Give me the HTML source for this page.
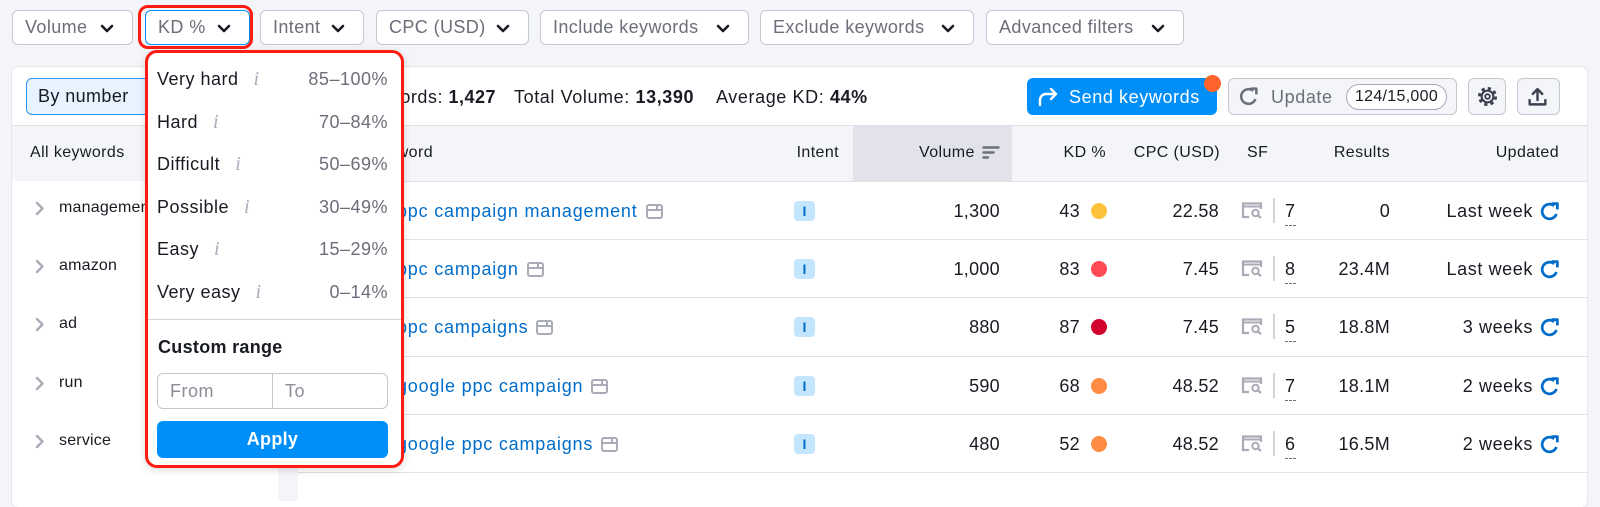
<!DOCTYPE html>
<html><head><meta charset="utf-8"><style>
*{box-sizing:border-box;margin:0;padding:0}
body{width:1600px;height:486px;overflow:hidden;background:#f4f5f9;position:relative;font-family:"Liberation Sans",Arial,sans-serif;color:#191b23}
.a{position:absolute;white-space:nowrap}
.fb{position:absolute;top:10px;height:35px;background:#fff;border:1px solid #c4c7cf;border-radius:6px;font-size:18px;line-height:33px;color:#6c6e79;padding-left:12px;letter-spacing:0.4px}
.fb svg{position:absolute;right:18px;top:13px}
.h{position:absolute;top:141px;height:24px;line-height:24px;font-size:16px;letter-spacing:0.4px;white-space:nowrap}
.sb{position:absolute;left:59px;height:24px;line-height:24px;font-size:16px;letter-spacing:0.2px}
.sbc{position:absolute;left:34px}
.t{position:absolute;height:24px;line-height:24px;font-size:18px;white-space:nowrap;letter-spacing:0.3px}
.kw{color:#006dca;letter-spacing:0.8px;left:397px}
.kw svg{vertical-align:-2px;margin-left:8px}
.ib{position:absolute;left:794px;width:21px;height:20px;background:#c4e5fe;border-radius:4px;color:#006dca;font-size:14px;font-weight:bold;text-align:center;line-height:20px}
.dot{position:absolute;left:1091px;width:16px;height:16px;border-radius:50%}
.sep{position:absolute;left:298px;width:1289px;height:1px;background:#e0e1e9}
.dd{position:absolute;left:157px;height:24px;line-height:24px;font-size:18px;letter-spacing:0.5px}
.dd i{font-family:"Liberation Serif",serif;color:#a9abb6;margin-left:15px;font-size:20px}
.rg{position:absolute;right:1212px;height:24px;line-height:24px;font-size:18px;color:#6c6e79;letter-spacing:0.5px}
</style></head><body>

<!-- filter buttons -->
<div class="fb" style="left:12px;width:121px">Volume<svg width="14" height="9" viewBox="0 0 14 9"><path d="M2 2l5 5 5-5" fill="none" stroke="#191b23" stroke-width="2.6" stroke-linecap="round" stroke-linejoin="round"/></svg></div>
<div class="fb" style="left:145px;width:105px;border-color:#008ff8">KD %<svg width="14" height="9" viewBox="0 0 14 9"><path d="M2 2l5 5 5-5" fill="none" stroke="#191b23" stroke-width="2.6" stroke-linecap="round" stroke-linejoin="round"/></svg></div>
<div class="a" style="left:138px;top:5px;width:115px;height:44px;border:3px solid #ff1b10;border-radius:10px"></div>
<div class="fb" style="left:260px;width:104px">Intent<svg width="14" height="9" viewBox="0 0 14 9"><path d="M2 2l5 5 5-5" fill="none" stroke="#191b23" stroke-width="2.6" stroke-linecap="round" stroke-linejoin="round"/></svg></div>
<div class="fb" style="left:376px;width:153px">CPC (USD)<svg width="14" height="9" viewBox="0 0 14 9"><path d="M2 2l5 5 5-5" fill="none" stroke="#191b23" stroke-width="2.6" stroke-linecap="round" stroke-linejoin="round"/></svg></div>
<div class="fb" style="left:540px;width:209px">Include keywords<svg width="14" height="9" viewBox="0 0 14 9"><path d="M2 2l5 5 5-5" fill="none" stroke="#191b23" stroke-width="2.6" stroke-linecap="round" stroke-linejoin="round"/></svg></div>
<div class="fb" style="left:760px;width:214px">Exclude keywords<svg width="14" height="9" viewBox="0 0 14 9"><path d="M2 2l5 5 5-5" fill="none" stroke="#191b23" stroke-width="2.6" stroke-linecap="round" stroke-linejoin="round"/></svg></div>
<div class="fb" style="left:986px;width:198px">Advanced filters<svg width="14" height="9" viewBox="0 0 14 9"><path d="M2 2l5 5 5-5" fill="none" stroke="#191b23" stroke-width="2.6" stroke-linecap="round" stroke-linejoin="round"/></svg></div>

<!-- card -->
<div class="a" style="left:12px;top:67px;width:1575px;height:440px;background:#fff;border-radius:6px;box-shadow:0 0 0 1px #e6e7ed"></div>

<!-- toolbar -->
<div class="a" style="left:26px;top:78px;width:160px;height:37px;background:#e7f3fe;border:1px solid #2b94f0;border-radius:6px;font-size:18px;line-height:35px;padding-left:11px;letter-spacing:0.4px">By number</div>
<div class="t" style="right:1104px;top:85px;letter-spacing:0.5px">Keywords: <b>1,427</b></div>
<div class="t" style="left:514px;top:85px;letter-spacing:0.6px">Total Volume: <b>13,390</b></div>
<div class="t" style="left:716px;top:85px;letter-spacing:0.6px">Average KD: <b>44%</b></div>

<div class="a" style="left:1027px;top:78px;width:190px;height:37px;background:#008ff8;border-radius:6px"></div>
<svg class="a" style="left:1037px;top:86px" width="22" height="22" viewBox="0 0 22 22"><path d="M3 19v-5a6 6 0 0 1 6-6h10" fill="none" stroke="#fff" stroke-width="2.4" stroke-linecap="round"/><path d="M14 3l5 5-5 5" fill="none" stroke="#fff" stroke-width="2.4" stroke-linecap="round" stroke-linejoin="round"/></svg>
<div class="t" style="left:1069px;top:85px;color:#fff;letter-spacing:0.6px">Send keywords</div>
<div class="a" style="left:1204px;top:75px;width:17px;height:17px;border-radius:50%;background:#ff642d"></div>

<div class="a" style="left:1228px;top:78px;width:229px;height:37px;background:#f4f5f9;border:1px solid #c4c7cf;border-radius:6px"></div>
<svg class="a" style="left:1238px;top:86px" width="21" height="21" viewBox="0 0 20 20"><path d="M16.6 12.4A7 7 0 1 1 14.5 4.6" fill="none" stroke="#6c6e79" stroke-width="2.4"/><path d="M12 2.5h5.5V8" fill="none" stroke="#6c6e79" stroke-width="2.4" stroke-linejoin="round"/></svg>
<div class="t" style="left:1271px;top:85px;color:#6c6e79;letter-spacing:0.6px">Update</div>
<div class="a" style="left:1346px;top:84px;width:101px;height:26px;border:1px solid #a9abb6;border-radius:13px;background:#fff;font-size:16px;line-height:24px;text-align:center;letter-spacing:0.3px">124/15,000</div>

<div class="a" style="left:1468px;top:78px;width:38px;height:37px;background:#f4f5f9;border:1px solid #c4c7cf;border-radius:6px"></div>
<svg class="a" style="left:1477px;top:86px" width="21" height="21" viewBox="0 0 20 20"><circle cx="10" cy="10" r="7.6" fill="none" stroke="#3e4150" stroke-width="3" stroke-dasharray="3 2.97"/><circle cx="10" cy="10" r="5.6" fill="none" stroke="#3e4150" stroke-width="2"/><circle cx="10" cy="10" r="2.2" fill="none" stroke="#3e4150" stroke-width="1.8"/></svg>
<div class="a" style="left:1517px;top:78px;width:43px;height:37px;background:#f4f5f9;border:1px solid #c4c7cf;border-radius:6px"></div>
<svg class="a" style="left:1527px;top:86px" width="21" height="21" viewBox="0 0 20 20"><path d="M2.5 12.5v5h15v-5" fill="none" stroke="#3e4150" stroke-width="2.3" stroke-linejoin="round"/><path d="M10 13.5V3M5.5 7.5L10 3l4.5 4.5" fill="none" stroke="#3e4150" stroke-width="2.3" stroke-linecap="round" stroke-linejoin="round"/></svg>

<!-- header band -->
<div class="a" style="left:12px;top:125px;width:1575px;height:1px;background:#e0e1e9"></div>
<div class="a" style="left:12px;top:126px;width:1575px;height:55px;background:#f4f5f9"></div>
<div class="a" style="left:853px;top:126px;width:159px;height:55px;background:#e2e3ea"></div>
<div class="a" style="left:278px;top:181px;width:20px;height:320px;background:#f4f5f9"></div>

<div class="h" style="left:30px">All keywords</div>
<div class="h" style="right:1167px">Keyword</div>
<div class="h" style="right:761px">Intent</div>
<div class="h" style="left:919px">Volume</div>
<svg class="a" style="left:982px;top:145px" width="18" height="15" viewBox="0 0 18 15"><path d="M1.5 2.5h15M1.5 7.5h10M1.5 12.5h4.5" stroke="#6c6e79" stroke-width="2.4" stroke-linecap="round"/></svg>
<div class="h" style="right:494px">KD %</div>
<div class="h" style="right:380px">CPC (USD)</div>
<div class="h" style="left:1247px">SF</div>
<div class="h" style="right:210px">Results</div>
<div class="h" style="right:41px">Updated</div>

<!-- sidebar -->
<svg class="sbc" style="top:201px" width="12" height="15" viewBox="0 0 12 15"><path d="M3 2l5.5 5.5L3 13" fill="none" stroke="#a9abb6" stroke-width="2.4" stroke-linecap="round" stroke-linejoin="round"/></svg>
<div class="sb" style="top:196px">management</div>
<svg class="sbc" style="top:259px" width="12" height="15" viewBox="0 0 12 15"><path d="M3 2l5.5 5.5L3 13" fill="none" stroke="#a9abb6" stroke-width="2.4" stroke-linecap="round" stroke-linejoin="round"/></svg>
<div class="sb" style="top:254px">amazon</div>
<svg class="sbc" style="top:317px" width="12" height="15" viewBox="0 0 12 15"><path d="M3 2l5.5 5.5L3 13" fill="none" stroke="#a9abb6" stroke-width="2.4" stroke-linecap="round" stroke-linejoin="round"/></svg>
<div class="sb" style="top:312px">ad</div>
<svg class="sbc" style="top:376px" width="12" height="15" viewBox="0 0 12 15"><path d="M3 2l5.5 5.5L3 13" fill="none" stroke="#a9abb6" stroke-width="2.4" stroke-linecap="round" stroke-linejoin="round"/></svg>
<div class="sb" style="top:371px">run</div>
<svg class="sbc" style="top:434px" width="12" height="15" viewBox="0 0 12 15"><path d="M3 2l5.5 5.5L3 13" fill="none" stroke="#a9abb6" stroke-width="2.4" stroke-linecap="round" stroke-linejoin="round"/></svg>
<div class="sb" style="top:429px">service</div>

<!-- table separators -->
<div class="sep" style="top:181px"></div>
<div class="sep" style="top:239px"></div>
<div class="sep" style="top:297px"></div>
<div class="sep" style="top:356px"></div>
<div class="sep" style="top:414px"></div>
<div class="sep" style="top:472px"></div>

<!-- row 0 -->
<div class="t kw" style="top:199px">ppc campaign management<svg width="17" height="15" viewBox="0 0 17 15"><rect x="1" y="1" width="15" height="13" rx="2" fill="none" stroke="#a9abb6" stroke-width="2"/><path d="M1 6h15M11 1v5" stroke="#a9abb6" stroke-width="2"/></svg></div>
<div class="ib" style="top:201px">I</div>
<div class="t" style="right:600px;top:199px">1,300</div>
<div class="t" style="right:520px;top:199px">43</div>
<div class="dot" style="top:203px;background:#fdc23c"></div>
<div class="t" style="right:381px;top:199px">22.58</div>
<svg class="a" style="left:1241px;top:202px" width="22" height="17" viewBox="0 0 22 17"><path d="M8 15H2V1.5h18V7" fill="none" stroke="#a9abb6" stroke-width="2.2"/><path d="M2 4.5h18" stroke="#a9abb6" stroke-width="2"/><circle cx="14.5" cy="11" r="3.2" fill="none" stroke="#a9abb6" stroke-width="2"/><path d="M17 13.5l3 2.5" stroke="#a9abb6" stroke-width="2.2"/></svg>
<div class="a" style="left:1273px;top:198px;width:2px;height:25px;background:#d1d4db"></div>
<div class="t" style="left:1285px;top:199px">7</div>
<div class="a" style="left:1285px;top:225px;width:11px;border-top:1px dashed #6c6e79"></div>
<div class="t" style="right:210px;top:199px">0</div>
<div class="t" style="right:67px;top:199px;letter-spacing:0.6px">Last week</div>
<svg class="a" style="left:1539px;top:201px" width="21" height="21" viewBox="0 0 20 20"><path d="M16.6 12.4A7 7 0 1 1 14.5 4.6" fill="none" stroke="#006dca" stroke-width="2.6"/><path d="M12 2.5h5.5V8" fill="none" stroke="#006dca" stroke-width="2.6" stroke-linejoin="round"/></svg>

<!-- row 1 -->
<div class="t kw" style="top:257px">ppc campaign<svg width="17" height="15" viewBox="0 0 17 15"><rect x="1" y="1" width="15" height="13" rx="2" fill="none" stroke="#a9abb6" stroke-width="2"/><path d="M1 6h15M11 1v5" stroke="#a9abb6" stroke-width="2"/></svg></div>
<div class="ib" style="top:259px">I</div>
<div class="t" style="right:600px;top:257px">1,000</div>
<div class="t" style="right:520px;top:257px">83</div>
<div class="dot" style="top:261px;background:#ff4953"></div>
<div class="t" style="right:381px;top:257px">7.45</div>
<svg class="a" style="left:1241px;top:260px" width="22" height="17" viewBox="0 0 22 17"><path d="M8 15H2V1.5h18V7" fill="none" stroke="#a9abb6" stroke-width="2.2"/><path d="M2 4.5h18" stroke="#a9abb6" stroke-width="2"/><circle cx="14.5" cy="11" r="3.2" fill="none" stroke="#a9abb6" stroke-width="2"/><path d="M17 13.5l3 2.5" stroke="#a9abb6" stroke-width="2.2"/></svg>
<div class="a" style="left:1273px;top:256px;width:2px;height:25px;background:#d1d4db"></div>
<div class="t" style="left:1285px;top:257px">8</div>
<div class="a" style="left:1285px;top:283px;width:11px;border-top:1px dashed #6c6e79"></div>
<div class="t" style="right:210px;top:257px">23.4M</div>
<div class="t" style="right:67px;top:257px;letter-spacing:0.6px">Last week</div>
<svg class="a" style="left:1539px;top:259px" width="21" height="21" viewBox="0 0 20 20"><path d="M16.6 12.4A7 7 0 1 1 14.5 4.6" fill="none" stroke="#006dca" stroke-width="2.6"/><path d="M12 2.5h5.5V8" fill="none" stroke="#006dca" stroke-width="2.6" stroke-linejoin="round"/></svg>

<!-- row 2 -->
<div class="t kw" style="top:315px">ppc campaigns<svg width="17" height="15" viewBox="0 0 17 15"><rect x="1" y="1" width="15" height="13" rx="2" fill="none" stroke="#a9abb6" stroke-width="2"/><path d="M1 6h15M11 1v5" stroke="#a9abb6" stroke-width="2"/></svg></div>
<div class="ib" style="top:317px">I</div>
<div class="t" style="right:600px;top:315px">880</div>
<div class="t" style="right:520px;top:315px">87</div>
<div class="dot" style="top:319px;background:#d1002f"></div>
<div class="t" style="right:381px;top:315px">7.45</div>
<svg class="a" style="left:1241px;top:318px" width="22" height="17" viewBox="0 0 22 17"><path d="M8 15H2V1.5h18V7" fill="none" stroke="#a9abb6" stroke-width="2.2"/><path d="M2 4.5h18" stroke="#a9abb6" stroke-width="2"/><circle cx="14.5" cy="11" r="3.2" fill="none" stroke="#a9abb6" stroke-width="2"/><path d="M17 13.5l3 2.5" stroke="#a9abb6" stroke-width="2.2"/></svg>
<div class="a" style="left:1273px;top:314px;width:2px;height:25px;background:#d1d4db"></div>
<div class="t" style="left:1285px;top:315px">5</div>
<div class="a" style="left:1285px;top:341px;width:11px;border-top:1px dashed #6c6e79"></div>
<div class="t" style="right:210px;top:315px">18.8M</div>
<div class="t" style="right:67px;top:315px;letter-spacing:0.6px">3 weeks</div>
<svg class="a" style="left:1539px;top:317px" width="21" height="21" viewBox="0 0 20 20"><path d="M16.6 12.4A7 7 0 1 1 14.5 4.6" fill="none" stroke="#006dca" stroke-width="2.6"/><path d="M12 2.5h5.5V8" fill="none" stroke="#006dca" stroke-width="2.6" stroke-linejoin="round"/></svg>

<!-- row 3 -->
<div class="t kw" style="top:374px">google ppc campaign<svg width="17" height="15" viewBox="0 0 17 15"><rect x="1" y="1" width="15" height="13" rx="2" fill="none" stroke="#a9abb6" stroke-width="2"/><path d="M1 6h15M11 1v5" stroke="#a9abb6" stroke-width="2"/></svg></div>
<div class="ib" style="top:376px">I</div>
<div class="t" style="right:600px;top:374px">590</div>
<div class="t" style="right:520px;top:374px">68</div>
<div class="dot" style="top:378px;background:#ff8c43"></div>
<div class="t" style="right:381px;top:374px">48.52</div>
<svg class="a" style="left:1241px;top:377px" width="22" height="17" viewBox="0 0 22 17"><path d="M8 15H2V1.5h18V7" fill="none" stroke="#a9abb6" stroke-width="2.2"/><path d="M2 4.5h18" stroke="#a9abb6" stroke-width="2"/><circle cx="14.5" cy="11" r="3.2" fill="none" stroke="#a9abb6" stroke-width="2"/><path d="M17 13.5l3 2.5" stroke="#a9abb6" stroke-width="2.2"/></svg>
<div class="a" style="left:1273px;top:373px;width:2px;height:25px;background:#d1d4db"></div>
<div class="t" style="left:1285px;top:374px">7</div>
<div class="a" style="left:1285px;top:400px;width:11px;border-top:1px dashed #6c6e79"></div>
<div class="t" style="right:210px;top:374px">18.1M</div>
<div class="t" style="right:67px;top:374px;letter-spacing:0.6px">2 weeks</div>
<svg class="a" style="left:1539px;top:376px" width="21" height="21" viewBox="0 0 20 20"><path d="M16.6 12.4A7 7 0 1 1 14.5 4.6" fill="none" stroke="#006dca" stroke-width="2.6"/><path d="M12 2.5h5.5V8" fill="none" stroke="#006dca" stroke-width="2.6" stroke-linejoin="round"/></svg>

<!-- row 4 -->
<div class="t kw" style="top:432px">google ppc campaigns<svg width="17" height="15" viewBox="0 0 17 15"><rect x="1" y="1" width="15" height="13" rx="2" fill="none" stroke="#a9abb6" stroke-width="2"/><path d="M1 6h15M11 1v5" stroke="#a9abb6" stroke-width="2"/></svg></div>
<div class="ib" style="top:434px">I</div>
<div class="t" style="right:600px;top:432px">480</div>
<div class="t" style="right:520px;top:432px">52</div>
<div class="dot" style="top:436px;background:#ff8c43"></div>
<div class="t" style="right:381px;top:432px">48.52</div>
<svg class="a" style="left:1241px;top:435px" width="22" height="17" viewBox="0 0 22 17"><path d="M8 15H2V1.5h18V7" fill="none" stroke="#a9abb6" stroke-width="2.2"/><path d="M2 4.5h18" stroke="#a9abb6" stroke-width="2"/><circle cx="14.5" cy="11" r="3.2" fill="none" stroke="#a9abb6" stroke-width="2"/><path d="M17 13.5l3 2.5" stroke="#a9abb6" stroke-width="2.2"/></svg>
<div class="a" style="left:1273px;top:431px;width:2px;height:25px;background:#d1d4db"></div>
<div class="t" style="left:1285px;top:432px">6</div>
<div class="a" style="left:1285px;top:458px;width:11px;border-top:1px dashed #6c6e79"></div>
<div class="t" style="right:210px;top:432px">16.5M</div>
<div class="t" style="right:67px;top:432px;letter-spacing:0.6px">2 weeks</div>
<svg class="a" style="left:1539px;top:434px" width="21" height="21" viewBox="0 0 20 20"><path d="M16.6 12.4A7 7 0 1 1 14.5 4.6" fill="none" stroke="#006dca" stroke-width="2.6"/><path d="M12 2.5h5.5V8" fill="none" stroke="#006dca" stroke-width="2.6" stroke-linejoin="round"/></svg>

<!-- dropdown -->
<div class="a" style="left:145px;top:50px;width:259px;height:418px;background:#fff;border:3px solid #ff1b10;border-radius:12px;box-shadow:0 2px 8px rgba(0,0,0,.15)"></div>
<div class="dd" style="top:67px">Very hard<i>i</i></div>
<div class="rg" style="top:67px">85–100%</div>
<div class="dd" style="top:110px">Hard<i>i</i></div>
<div class="rg" style="top:110px">70–84%</div>
<div class="dd" style="top:152px">Difficult<i>i</i></div>
<div class="rg" style="top:152px">50–69%</div>
<div class="dd" style="top:195px">Possible<i>i</i></div>
<div class="rg" style="top:195px">30–49%</div>
<div class="dd" style="top:237px">Easy<i>i</i></div>
<div class="rg" style="top:237px">15–29%</div>
<div class="dd" style="top:280px">Very easy<i>i</i></div>
<div class="rg" style="top:280px">0–14%</div>
<div class="a" style="left:148px;top:319px;width:253px;height:1px;background:#d1d4db"></div>
<div class="dd" style="left:158px;top:335px;font-weight:bold;letter-spacing:0.3px">Custom range</div>
<div class="a" style="left:157px;top:373px;width:231px;height:36px;border:1px solid #c4c7cf;border-radius:6px"></div>
<div class="a" style="left:272px;top:374px;width:1px;height:34px;background:#c4c7cf"></div>
<div class="dd" style="left:170px;top:379px;color:#8b8e99">From</div>
<div class="dd" style="left:285px;top:379px;color:#8b8e99">To</div>
<div class="a" style="left:157px;top:421px;width:231px;height:37px;background:#008ff8;border-radius:6px;color:#fff;font-weight:bold;font-size:18px;line-height:37px;text-align:center;letter-spacing:0.3px">Apply</div>

</body></html>
